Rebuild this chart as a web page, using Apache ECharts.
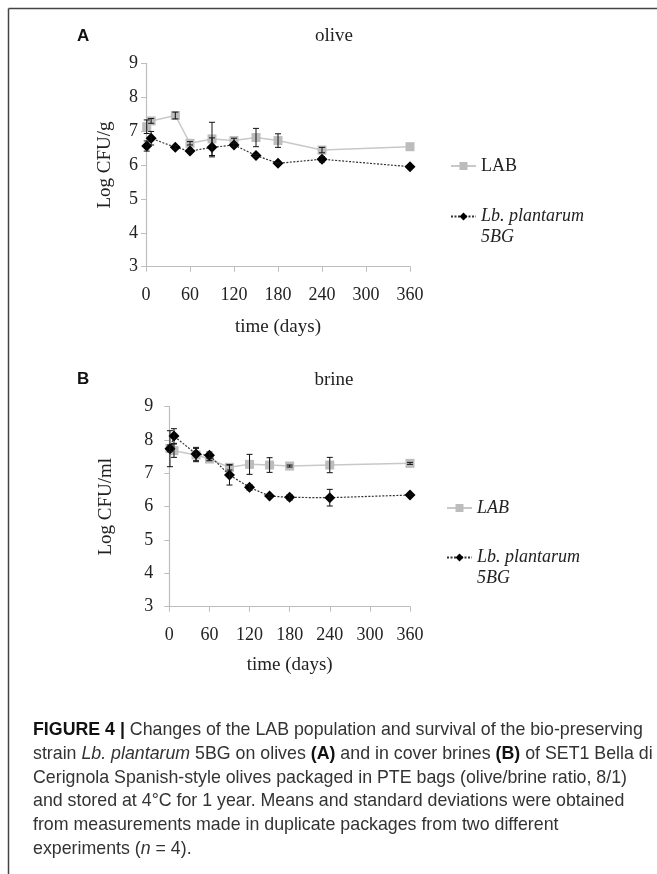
<!DOCTYPE html>
<html>
<head>
<meta charset="utf-8">
<script src="https://cdn.jsdelivr.net/npm/echarts@6/dist/echarts.min.js"></script>
<style>html,body{margin:0;padding:0;background:#fff;}#c{width:657px;height:874px;}</style>
</head>
<body>
<div id="c"></div>
<script>
// ---- data ----
const days = [1, 7, 40, 60, 90, 120, 150, 180, 240, 360];
const xTicks = [0, 60, 120, 180, 240, 300, 360];
const yTicks = [3, 4, 5, 6, 7, 8, 9];
const seriesNames = ['LAB', 'Lb. plantarum 5BG'];
// panel A: olive
const oliveLAB    = [7.13, 7.30, 7.46, 6.64, 6.77, 6.72, 6.81, 6.72, 6.44, 6.54];
const oliveLABsd  = [0.20, 0.07, 0.10, 0.05, 0.49, 0.07, 0.27, 0.20, 0.08, 0];
const oliveLbp    = [6.56, 6.79, 6.52, 6.41, 6.52, 6.59, 6.28, 6.05, 6.17, 5.95];
const oliveLbpSd  = [0.15, 0.20, 0.05, 0.03, 0.28, 0.05, 0.03, 0.02, 0.08, 0];
// panel B: brine
const brineLAB    = [7.75, 7.68, 7.55, 7.43, 7.18, 7.27, 7.25, 7.22, 7.25, 7.30];
const brineLABsd  = [0.10, 0.20, 0.20, 0.05, 0.08, 0.30, 0.22, 0.03, 0.23, 0.03];
const brineLbp    = [7.74, 8.12, 7.58, 7.54, 6.95, 6.58, 6.32, 6.28, 6.27, 6.35];
const brineLbpSd  = [0.54, 0.22, 0.20, 0.10, 0.30, 0.08, 0.04, 0.08, 0.25, 0.03];

const SERIF = "'Liberation Serif', 'Times New Roman', serif";
const SANS = "'Liberation Sans', Arial, sans-serif";
const TXT = '#222';
const AX = '#bdbdbd';

function pts(vals) { return days.map((d, i) => [d, vals[i]]); }
function errPts(vals, sds) { return days.map((d, i) => [d, vals[i], sds[i]]); }

function errRender(params, api) {
  const x = api.value(0), y = api.value(1), e = api.value(2);
  if (!e) return null;
  const t = api.coord([x, y + e]), b = api.coord([x, y - e]);
  const w = 3, st = { stroke: '#111', lineWidth: 1 };
  return { type: 'group', children: [
    { type: 'line', shape: { x1: t[0], y1: t[1], x2: b[0], y2: b[1] }, style: st },
    { type: 'line', shape: { x1: t[0] - w, y1: t[1], x2: t[0] + w, y2: t[1] }, style: st },
    { type: 'line', shape: { x1: b[0] - w, y1: b[1], x2: b[0] + w, y2: b[1] }, style: st }
  ]};
}

function xAx(gi, gap) {
  return {
    type: 'value', gridIndex: gi, min: 0, max: 360, interval: 60,
    name: 'time (days)', nameLocation: 'middle', nameGap: gap,
    nameTextStyle: { fontFamily: SERIF, fontSize: 19, color: TXT },
    axisLine: { show: true, lineStyle: { color: AX, width: 1.2 } },
    axisTick: { show: true, length: 5, lineStyle: { color: AX } },
    splitLine: { show: false },
    axisLabel: { fontFamily: SERIF, fontSize: 18, color: TXT, margin: 20,
      customValues: xTicks }
  };
}
function yAx(gi, name, gap, margin) {
  return {
    type: 'value', gridIndex: gi, min: 3, max: 9, interval: 1,
    name: name, nameLocation: 'middle', nameGap: gap, nameRotate: 90,
    nameTextStyle: { fontFamily: SERIF, fontSize: 19, color: TXT },
    axisLine: { show: true, lineStyle: { color: AX, width: 1.2 } },
    axisTick: { show: true, length: 5, lineStyle: { color: AX } },
    splitLine: { show: false },
    axisLabel: { fontFamily: SERIF, fontSize: 18, color: TXT, margin: margin }
  };
}
function labSeries(gi, vals) {
  return { name: seriesNames[0], type: 'line', xAxisIndex: gi, yAxisIndex: gi,
    data: pts(vals), symbol: 'rect', symbolSize: 9, z: 2,
    lineStyle: { color: '#c8c8c8', width: 1.5 },
    itemStyle: { color: '#bcbcbc' } };
}
function lbpSeries(gi, vals) {
  return { name: seriesNames[1], type: 'line', xAxisIndex: gi, yAxisIndex: gi,
    data: pts(vals), symbol: 'diamond', symbolSize: 11, z: 3,
    lineStyle: { color: '#333', width: 1.2, type: [2, 1.5] },
    itemStyle: { color: '#000' } };
}
function errSeries(gi, vals, sds, z) {
  return { type: 'custom', xAxisIndex: gi, yAxisIndex: gi, data: errPts(vals, sds),
    renderItem: errRender, z: z, silent: true, encode: { x: 0, y: 1 } };
}
function legendFor(name, left, top, italic, twoLine) {
  return {
    data: [name], orient: 'vertical', left: left, top: top,
    itemWidth: 25, itemHeight: 10, itemGap: 0, selectedMode: false,
    textStyle: { fontFamily: SERIF, fontSize: 18, color: TXT,
      rich: {
        n: { fontFamily: SERIF, fontSize: 18, color: TXT, lineHeight: 22 },
        i: { fontFamily: SERIF, fontSize: 18, color: TXT, fontStyle: 'italic', lineHeight: 21 }
      } },
    formatter: function (n) {
      if (twoLine) return '{i| }\n{i|Lb. plantarum}\n{i|5BG}';
      return italic ? '{i|' + n + '}' : '{n|' + n + '}';
    }
  };
}

const capLines = [
  '{b|FIGURE 4 |} Changes of the LAB population and survival of the bio-preserving',
  'strain {i|Lb. plantarum} 5BG on olives {b|(A)} and in cover brines {b|(B)} of SET1 Bella di',
  'Cerignola Spanish-style olives packaged in PTE bags (olive/brine ratio, 8/1)',
  'and stored at 4°C for 1 year. Means and standard deviations were obtained',
  'from measurements made in duplicate packages from two different',
  'experiments ({i|n} = 4).'
];
const capY = [730, 754, 778, 801, 825, 849];
const CAPF = 17.8;
const capRich = {
  b: { fontFamily: SANS, fontSize: CAPF, fontWeight: 'bold', fill: '#111' },
  i: { fontFamily: SANS, fontSize: CAPF, fontStyle: 'italic', fill: '#333' }
};

const graphics = [
  { type: 'line', shape: { x1: 8.5, y1: 8.5, x2: 657, y2: 8.5 }, style: { stroke: '#444', lineWidth: 1.5 } },
  { type: 'line', shape: { x1: 8.5, y1: 8.5, x2: 8.5, y2: 874 }, style: { stroke: '#444', lineWidth: 1.5 } },
  { type: 'text', x: 77, y: 36, style: { text: 'A', font: 'bold 17px ' + SANS, fill: '#111', textVerticalAlign: 'middle' } },
  { type: 'text', x: 77, y: 379, style: { text: 'B', font: 'bold 17px ' + SANS, fill: '#111', textVerticalAlign: 'middle' } },
  { type: 'text', x: 334, y: 36, style: { text: 'olive', font: '19px ' + SERIF, fill: TXT, textAlign: 'center', textVerticalAlign: 'middle' } },
  { type: 'text', x: 334, y: 380, style: { text: 'brine', font: '19px ' + SERIF, fill: TXT, textAlign: 'center', textVerticalAlign: 'middle' } }
];
capLines.forEach((t, k) => {
  graphics.push({ type: 'text', x: 33, y: capY[k], style: {
    text: t, font: CAPF + 'px ' + SANS, fill: '#333', textVerticalAlign: 'middle', rich: capRich } });
});

const chart = echarts.init(document.getElementById('c'), null, { renderer: 'canvas' });
chart.setOption({
  backgroundColor: '#fff',
  animation: false,
  grid: [
    { left: 146, right: 247, top: 63.3, height: 203.4, containLabel: false },
    { left: 169.3, right: 247, top: 406.7, height: 200, containLabel: false }
  ],
  xAxis: [xAx(0, 51), xAx(1, 49)],
  yAxis: [yAx(0, 'Log CFU/g', 31, 8), yAx(1, 'Log CFU/ml', 54, 16)],
  legend: [
    legendFor(seriesNames[0], 445, 152, false, false),
    legendFor(seriesNames[1], 445, 181.5, true, true),
    legendFor(seriesNames[0], 441, 494, true, false),
    legendFor(seriesNames[1], 441, 522.5, true, true)
  ],
  series: [
    labSeries(0, oliveLAB), lbpSeries(0, oliveLbp),
    errSeries(0, oliveLAB, oliveLABsd, 4), errSeries(0, oliveLbp, oliveLbpSd, 4),
    labSeries(1, brineLAB), lbpSeries(1, brineLbp),
    errSeries(1, brineLAB, brineLABsd, 4), errSeries(1, brineLbp, brineLbpSd, 4)
  ],
  graphic: graphics
});
</script>
</body>
</html>
